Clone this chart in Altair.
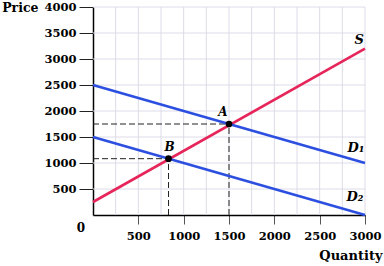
import altair as alt
import pandas as pd

# Data
s_q = [0, 3000]
s_p = [250, 3200]
d1_q = [0, 3000]
d1_p = [2500, 1000]
d2_q = [0, 3000]
d2_p = [1500, 0]
pt_names = ["A", "B"]
pt_q = [1500, 833]
pt_p = [1750, 1083]
line_labels = ["S", "D₁", "D₂"]
line_label_q = [2935, 2900, 2890]
line_label_p = [3360, 1290, 350]
x_ticks = [500, 1000, 1500, 2000, 2500, 3000]
y_ticks = [500, 1000, 1500, 2000, 2500, 3000, 3500, 4000]
x_grid = [250 * i for i in range(1, 13)]
y_grid = [500 * i for i in range(1, 9)]

RED = "#e6265a"
BLUE = "#2c4fe0"
FONT = "DejaVu Serif"
LFS = 11.5
TFS = 12.5

W, H = 272, 208
xs = alt.Scale(domain=[0, 3000], nice=False, zero=False)
ys = alt.Scale(domain=[0, 4000], nice=False, zero=False)

lines = pd.DataFrame(
    [{"q": q, "p": p, "s": "S"} for q, p in zip(s_q, s_p)]
    + [{"q": q, "p": p, "s": "D1"} for q, p in zip(d1_q, d1_p)]
    + [{"q": q, "p": p, "s": "D2"} for q, p in zip(d2_q, d2_p)]
)
pts = pd.DataFrame({"name": pt_names, "q": pt_q, "p": pt_p})
labs = pd.DataFrame({"t": line_labels, "q": line_label_q, "p": line_label_p})
xg = pd.DataFrame({"q": x_grid})
yg = pd.DataFrame({"p": y_grid})

xaxis = alt.Axis(values=x_ticks, format="d", labelOverlap=False, labelFlush=False,
                 grid=False, domain=True, domainColor="#000", domainWidth=1.5,
                 tickColor="#555", tickSize=9, labelFont=FONT, labelFontWeight="bold",
                 labelFontSize=LFS, labelColor="#000", labelPadding=6,
                 title="Quantity", titleFont=FONT, titleFontWeight="bold", titleFontSize=13,
                 titleAlign="right", titleAnchor="end", titleBaseline="middle",
                 titleX=289, titleY=40, titleColor="#000")
yaxis = alt.Axis(values=y_ticks, format="d", labelOverlap=False, labelFlush=False,
                 grid=False, domain=True, domainColor="#000", domainWidth=1.5,
                 tickColor="#222", tickSize=14, labelFont=FONT, labelFontWeight="bold",
                 labelFontSize=LFS, labelColor="#000", labelPadding=3,
                 title="Price", titleFont=FONT, titleFontWeight="bold", titleFontSize=TFS,
                 titleAngle=0, titleAlign="right", titleBaseline="middle",
                 titleX=-55, titleY=0, titleColor="#000")


def X(field="q:Q"):
    return alt.X(field, scale=xs, axis=xaxis)


def Y(field="p:Q"):
    return alt.Y(field, scale=ys, axis=yaxis)


grid_v = alt.Chart(xg).mark_rule(color="#dcdce8", strokeWidth=1).encode(
    x=X(), y=alt.value(0), y2=alt.value(H))
grid_h = alt.Chart(yg).mark_rule(color="#dcdce8", strokeWidth=1).encode(
    y=Y(), x=alt.value(0), x2=alt.value(W))

curves = alt.Chart(lines).mark_line(strokeWidth=2.6).encode(
    x=X(), y=Y(),
    detail="s:N",
    color=alt.Color("s:N", scale=alt.Scale(domain=["S", "D1", "D2"], range=[RED, BLUE, BLUE]), legend=None),
)

dash_h = alt.Chart(pts).transform_calculate(z="0").mark_rule(
    color="#222", strokeDash=[6, 3], strokeWidth=1).encode(
    x=X("z:Q"), x2="q:Q", y=Y())
dash_v = alt.Chart(pts).transform_calculate(z="0").mark_rule(
    color="#222", strokeDash=[6, 3], strokeWidth=1).encode(
    y=Y("z:Q"), y2="p:Q", x=X())

dots = alt.Chart(pts).mark_circle(size=45, color="#000", opacity=1).encode(x=X(), y=Y())
label_a = alt.Chart(pts).transform_filter("datum.name == 'A'").mark_text(
    font=FONT, fontWeight="bold", fontStyle="italic", fontSize=12, dy=-12, dx=-6, color="#000").encode(
    x=X(), y=Y(), text="name:N")
label_b = alt.Chart(pts).transform_filter("datum.name == 'B'").mark_text(
    font=FONT, fontWeight="bold", fontStyle="italic", fontSize=12, dy=-12, dx=1, color="#000").encode(
    x=X(), y=Y(), text="name:N")
line_text = alt.Chart(labs).mark_text(font=FONT, fontWeight="bold", fontStyle="italic",
                                      fontSize=13, color="#000").encode(
    x=X(), y=Y(), text="t:N")
zero = alt.Chart(pd.DataFrame({"q": [0], "p": [0], "t": ["0"]})).mark_text(
    font=FONT, fontWeight="bold", fontSize=12, dx=-12, dy=13, color="#000").encode(
    x=X(), y=Y(), text="t:N")

chart = alt.layer(grid_v, grid_h, dash_h, dash_v, curves, dots, label_a, label_b, line_text, zero).properties(
    width=W, height=H,
    padding={"left": 93, "top": 7, "right": 19, "bottom": 51},
    autosize=alt.AutoSizeParams(type="none"),
    background="white",
).configure_view(stroke=None).configure_axis(labelOverlap=False)

chart.save("out.html", embed_options={"renderer": "svg", "actions": False})
